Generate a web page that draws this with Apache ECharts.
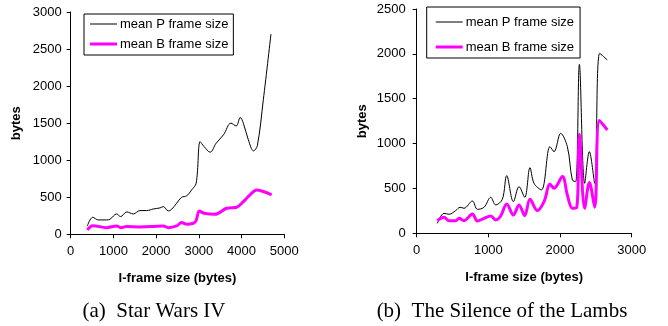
<!DOCTYPE html>
<html><head><meta charset="utf-8">
<script src="https://cdn.jsdelivr.net/npm/echarts@6/dist/echarts.min.js"></script>
<style>html,body{margin:0;padding:0;background:#fff}#c{width:668px;height:326px}</style>
</head><body><div id="c"></div>
<script>
// Star Wars IV
const swP_x = [390,515,647,842,920,1076,1170,1310,1466,1622,1778,1934,2090,2168,2285,2363,2480,2597,2714,2831,2937,3031,3120,3265,3405,3577,3750,3874,3968,4041,4158,4280,4368,4509,4688];
const swP_y = [113,230,194,194,203,275,239,302,275,320,320,342,356,374,315,338,419,500,518,599,689,1251,1185,1108,1230,1342,1500,1462,1576,1500,1275,1126,1194,1815,2703];
const swB_x = [390,515,842,1076,1170,1310,1600,1900,2168,2285,2480,2597,2714,2870,2933,3011,3120,3378,3650,3884,4041,4197,4353,4509,4704];
const swB_y = [58,117,90,113,90,104,100,104,113,90,113,158,135,149,180,315,284,270,351,365,441,532,599,577,532];
// The Silence of the Lambs
const slP_x = [288,381,451,544,605,660,777,847,940,1033,1102,1195,1256,1349,1428,1507,1581,1637,1740,1860,1916,2009,2102,2172,2219,2270,2344,2409,2484,2553,2660];
const slP_y = [111,223,212,253,290,279,360,267,290,401,316,379,643,353,520,401,732,557,483,966,910,1114,966,594,576,1883,557,910,557,2006,1932];
const slB_x = [288,381,451,544,591,660,777,847,940,1033,1102,1172,1256,1349,1428,1507,1581,1684,1777,1860,1916,2033,2102,2172,2233,2270,2344,2409,2484,2549,2660];
const slB_y = [141,178,141,141,167,141,215,137,167,193,149,193,327,204,316,197,379,253,353,546,502,632,427,279,286,1103,279,565,290,1256,1152];
const seriesNames = ['mean P frame size','mean B frame size'];
const xTitle = 'I-frame size (bytes)';
const yTitle = 'bytes';
const captions = ['(a)\u2002Star Wars IV','(b)\u2002The Silence of the Lambs'];

const zip = (xs, ys) => xs.map((x, i) => [x, ys[i]]);
const font = 'Arial, "Liberation Sans", sans-serif';
const serif = '"Liberation Serif", "Times New Roman", serif';
const chart = echarts.init(document.getElementById('c'), null, {renderer:'canvas'});
const plain = v => String(v);

function xAx(idx, max){
  return {gridIndex: idx, type:'value', min:0, max:max, interval:1000,
    name: xTitle, nameLocation:'middle', nameGap: 38,
    nameTextStyle:{fontFamily:font, fontWeight:'bold', fontSize:13, color:'#000'},
    axisLine:{show:true, onZero:false, lineStyle:{color:'#000', width:1}},
    axisTick:{show:true, length:4, lineStyle:{color:'#000'}},
    axisLabel:{fontFamily:font, fontSize:13, color:'#000', margin:11, formatter:plain},
    splitLine:{show:false}};
}
function yAx(idx, max, margin, nameGap){
  return {gridIndex: idx, type:'value', min:0, max:max, interval:500,
    name: yTitle, nameLocation:'middle', nameGap: nameGap, nameRotate:90,
    nameTextStyle:{fontFamily:font, fontWeight:'bold', fontSize:13, color:'#000'},
    axisLine:{show:true, lineStyle:{color:'#000', width:1}},
    axisTick:{show:true, length:4, lineStyle:{color:'#000'}},
    axisLabel:{fontFamily:font, fontSize:13, color:'#000', margin:margin, formatter:plain},
    splitLine:{show:false}};
}
const pStyle = {color:'#000', width:1};
const bStyle = {color:'#ff00ff', width:3};
function ser(name, xi, data, ls){
  return {name:name, type:'line', xAxisIndex:xi, yAxisIndex:xi, data:data,
    smooth:0.35, symbol:'none', lineStyle:ls, itemStyle:{color:ls.color}, animation:false};
}
// legend icons: thin/thick horizontal line inside a 27x14 box (tiny corner dots set the box)
const iconP = 'path://M0,0h0.01v0.01h-0.01z M0,6.5H27V7.5H0Z M27,14h-0.01v-0.01h0.01z';
const iconB = 'path://M0,0h0.01v0.01h-0.01z M0,5.5H27V8.5H0Z M27,14h-0.01v-0.01h0.01z';
function leg(left, top, pad, gap){
  return {data:[{name:seriesNames[0], icon:iconP}, {name:seriesNames[1], icon:iconB}],
    orient:'vertical', left:left, top:top, padding:pad,
    itemGap:gap, itemWidth:27, itemHeight:14, borderColor:'#000', borderWidth:1,
    backgroundColor:'#fff', selectedMode:false,
    itemStyle:{borderWidth:0}, lineStyle:{width:0},
    textStyle:{fontFamily:font, fontSize:13, color:'#000', padding:[0,0,0,-2]}};
}

chart.setOption({
  animation:false,
  grid:[
    {left:70.7, top:12, width:213.6, height:222.3, containLabel:false},
    {left:416.7, top:9, width:215, height:224.3, containLabel:false}
  ],
  xAxis:[xAx(0, 5000), xAx(1, 3000)],
  yAxis:[yAx(0, 3000, 9, 48), yAx(1, 2500, 11, 48)],
  legend:[leg(84, 14, [3,5,4,6], 6), leg(426.7, 7, [8,6,4,9], 11)],
  title:[
    {text:captions[0], left:149, top:296, textAlign:'center',
      textStyle:{fontFamily:serif, fontWeight:'normal', fontSize:21, color:'#000'}},
    {text:captions[1], left:497, top:296, textAlign:'center',
      textStyle:{fontFamily:serif, fontWeight:'normal', fontSize:21, color:'#000'}}
  ],
  series:[
    ser(seriesNames[0], 0, zip(swP_x, swP_y), pStyle),
    ser(seriesNames[1], 0, zip(swB_x, swB_y), bStyle),
    ser(seriesNames[0], 1, zip(slP_x, slP_y), pStyle),
    ser(seriesNames[1], 1, zip(slB_x, slB_y), bStyle)
  ]
});
</script></body></html>
